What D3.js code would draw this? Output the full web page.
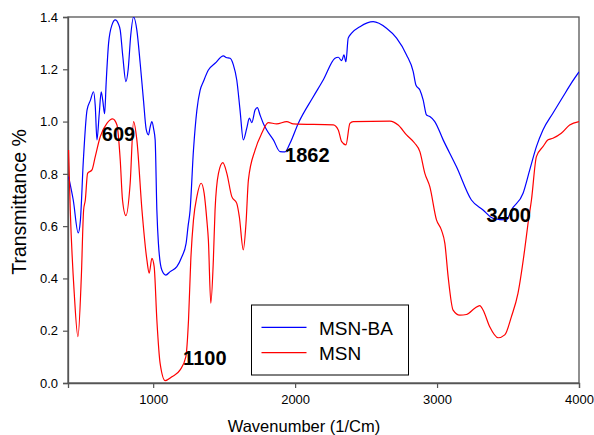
<!DOCTYPE html>
<html>
<head>
<meta charset="utf-8">
<script src="https://cdn.jsdelivr.net/npm/d3@7"></script>
<style>
  body { margin: 0; background: #fff; }
  text { font-family: "Liberation Sans", Arial, sans-serif; }
</style>
</head>
<body>
<script>
// MSN-BA spectrum (wavenumber, transmittance)
const msnbaX = [404, 437, 472, 487, 508, 534, 557, 580, 592, 604, 620, 634, 645, 658, 669, 686, 710, 733, 754, 768, 786, 808, 824, 842, 862, 885, 909, 932, 951, 967, 979, 991, 1004, 1014, 1026, 1037, 1061, 1089, 1120, 1167, 1202, 1232, 1246, 1260, 1284, 1308, 1331, 1354, 1389, 1436, 1495, 1514, 1542, 1565, 1589, 1612, 1635, 1659, 1678, 1695, 1718, 1734, 1753, 1776, 1800, 1847, 1894, 1929, 1964, 2022, 2128, 2198, 2281, 2304, 2328, 2344, 2358, 2374, 2398, 2457, 2550, 2644, 2715, 2785, 2832, 2851, 2879, 2902, 2926, 2949, 2984, 3043, 3137, 3242, 3324, 3395, 3489, 3524, 3606, 3653, 3700, 3746, 3816, 3887, 3946, 4000];
const msnbaY = [0.789, 0.70, 0.574, 0.62, 0.85, 1.044, 1.08, 1.114, 1.06, 0.93, 1.03, 1.114, 1.08, 1.03, 1.15, 1.30, 1.37, 1.389, 1.375, 1.35, 1.25, 1.153, 1.20, 1.33, 1.40, 1.35, 1.22, 1.08, 0.97, 0.949, 0.98, 1.0, 0.97, 0.93, 0.662, 0.534, 0.432, 0.413, 0.426, 0.445, 0.483, 0.534, 0.60, 0.66, 0.891, 1.044, 1.12, 1.153, 1.197, 1.223, 1.251, 1.245, 1.242, 1.217, 1.159, 1.044, 0.93, 0.974, 1.013, 0.996, 1.044, 1.053, 1.025, 0.993, 0.968, 0.93, 0.885, 0.884, 0.917, 0.993, 1.095, 1.159, 1.242, 1.246, 1.233, 1.255, 1.229, 1.319, 1.338, 1.363, 1.382, 1.357, 1.319, 1.255, 1.191, 1.14, 1.121, 1.083, 1.025, 1.019, 1.0, 0.93, 0.827, 0.70, 0.662, 0.63, 0.624, 0.662, 0.726, 0.815, 0.904, 0.968, 1.032, 1.095, 1.147, 1.19];

// MSN spectrum
const msnX = [404, 416, 444, 470, 494, 510, 522, 538, 569, 592, 627, 674, 714, 745, 768, 784, 808, 838, 862, 885, 921, 956, 972, 991, 1007, 1026, 1049, 1085, 1132, 1190, 1230, 1249, 1265, 1284, 1308, 1338, 1359, 1378, 1389, 1406, 1424, 1436, 1460, 1491, 1519, 1554, 1589, 1607, 1635, 1654, 1671, 1718, 1765, 1811, 1870, 1941, 1987, 2269, 2304, 2328, 2358, 2386, 2409, 2668, 2726, 2785, 2843, 2879, 2914, 2949, 2996, 3031, 3055, 3078, 3113, 3160, 3207, 3266, 3301, 3324, 3371, 3430, 3477, 3524, 3570, 3617, 3641, 3665, 3700, 3746, 3782, 3816, 3875, 3934, 4000];
const msnY = [0.891, 0.662, 0.343, 0.177, 0.407, 0.662, 0.70, 0.802, 0.815, 0.866, 0.942, 0.993, 1.01, 0.987, 0.853, 0.70, 0.64, 0.764, 1.0, 0.93, 0.662, 0.47, 0.42, 0.477, 0.445, 0.241, 0.075, 0.009, 0.024, 0.05, 0.1, 0.241, 0.47, 0.624, 0.713, 0.764, 0.726, 0.624, 0.547, 0.305, 0.47, 0.662, 0.802, 0.843, 0.802, 0.713, 0.687, 0.636, 0.509, 0.611, 0.777, 0.891, 0.955, 0.996, 0.991, 1.0, 0.991, 0.987, 0.968, 0.923, 0.911, 0.993, 1.0, 1.002, 0.987, 0.949, 0.917, 0.885, 0.802, 0.751, 0.624, 0.585, 0.534, 0.407, 0.279, 0.26, 0.262, 0.286, 0.296, 0.279, 0.215, 0.173, 0.184, 0.254, 0.343, 0.509, 0.611, 0.70, 0.866, 0.904, 0.93, 0.936, 0.955, 0.987, 1.0];

const xTicks = [1000, 2000, 3000, 4000];
const yTicks = [0, 0.2, 0.4, 0.6, 0.8, 1.0, 1.2, 1.4];

const peakLabels = ["609", "1100", "1862", "3400"];
const peakX = [638, 1211, 1929, 3348];
const peakY = [0.927, 0.069, 0.847, 0.617];

const seriesNames = ["MSN-BA", "MSN"];
const seriesColors = ["#0000ff", "#ff0000"];

const width = 594;
const height = 435;
const margin = { top: 17, right: 15, bottom: 52, left: 68 };
const w = width - margin.left - margin.right;
const h = height - margin.top - margin.bottom;

const svg = d3.select("body").append("svg")
    .attr("width", width)
    .attr("height", height);

const x = d3.scaleLinear().domain([400, 4000]).range([0, w]);
const y = d3.scaleLinear().domain([0, 1.4]).range([h, 0]);

const g = svg.append("g")
    .attr("transform", `translate(${margin.left},${margin.top})`);

g.append("clipPath").attr("id", "clip")
    .append("rect").attr("width", w).attr("height", h);

// frame
g.append("rect")
    .attr("width", w)
    .attr("height", h)
    .attr("fill", "none")
    .attr("stroke", "#555")
    .attr("stroke-width", 1.3);

const xAxis = g.append("g")
    .attr("transform", `translate(0,${h})`)
    .call(d3.axisBottom(x).tickValues(xTicks).tickSize(5).tickPadding(7).tickFormat(d3.format("d")));

const yAxis = g.append("g")
    .call(d3.axisLeft(y).tickValues(yTicks).tickSize(5).tickPadding(5).tickFormat(d3.format(".1f")));

[xAxis, yAxis].forEach(a => {
    a.select(".domain").attr("stroke", "#555").attr("stroke-width", 1.3);
    a.selectAll(".tick line").attr("stroke", "#555").attr("stroke-width", 1.2);
    a.selectAll(".tick text")
        .attr("font-family", "'Liberation Sans', Arial, sans-serif")
        .attr("font-size", "13px")
        .attr("fill", "#000");
});

svg.append("text")
    .attr("x", 304)
    .attr("y", 432)
    .attr("text-anchor", "middle")
    .attr("font-size", "16.5px")
    .text("Wavenumber (1/Cm)");

svg.append("text")
    .attr("transform", "translate(26,202) rotate(-90)")
    .attr("text-anchor", "middle")
    .attr("font-size", "19.5px")
    .text("Transmittance %");

const line = d3.line()
    .x(d => x(d[0]))
    .y(d => y(d[1]))
    .curve(d3.curveMonotoneX);

const series = [d3.zip(msnbaX, msnbaY), d3.zip(msnX, msnY)];

const plot = g.append("g").attr("clip-path", "url(#clip)");

plot.selectAll(".series")
    .data(series)
    .enter()
    .append("path")
    .attr("class", "series")
    .attr("fill", "none")
    .attr("stroke", (d, i) => seriesColors[i])
    .attr("stroke-width", 1.2)
    .attr("d", line);

g.selectAll(".peak")
    .data(peakLabels)
    .enter()
    .append("text")
    .attr("class", "peak")
    .attr("x", (d, i) => x(peakX[i]))
    .attr("y", (d, i) => y(peakY[i]))
    .attr("font-size", "20px")
    .attr("font-weight", "bold")
    .text(d => d);

// legend
const legend = svg.append("g").attr("transform", "translate(251.5,305)");
legend.append("rect")
    .attr("width", 157)
    .attr("height", 70)
    .attr("fill", "#fff")
    .attr("stroke", "#000")
    .attr("stroke-width", 1);

const item = legend.selectAll(".item")
    .data(seriesNames)
    .enter()
    .append("g")
    .attr("transform", (d, i) => `translate(0,${22.3 + i * 25.4})`);

item.append("line")
    .attr("x1", 10).attr("x2", 55)
    .attr("stroke", (d, i) => seriesColors[i])
    .attr("stroke-width", 1.2);

item.append("text")
    .attr("x", 67.5)
    .attr("y", 7.5)
    .attr("font-size", "19px")
    .text(d => d);
</script>
</body>
</html>
